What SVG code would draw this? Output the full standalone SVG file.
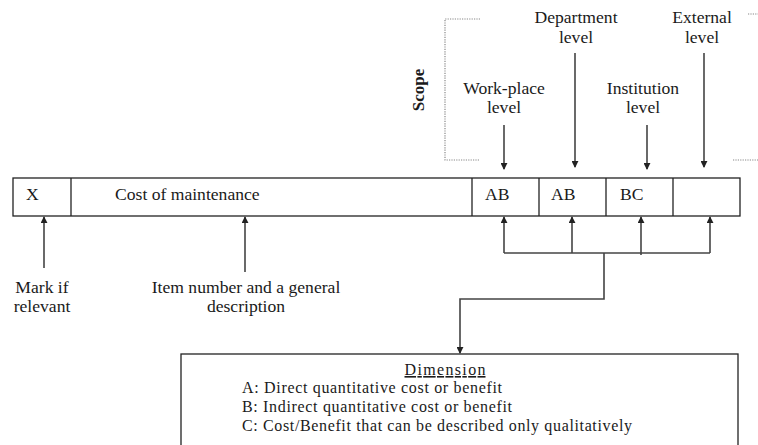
<svg xmlns="http://www.w3.org/2000/svg" width="758" height="445" viewBox="0 0 758 445">
<style>
text{font-family:"Liberation Serif","Times New Roman",serif;font-size:17.6px;fill:#1a1a1a}
.c{text-anchor:middle}
.d{font-size:16px}
.ln{stroke:#444;stroke-width:1.6;fill:none}
.box{stroke:#222;stroke-width:1.3;fill:#fff}
.dot{stroke:#888;stroke-width:1.2;stroke-dasharray:1.2 1.2;fill:none}
</style>
<defs>
<marker id="ah" viewBox="0 0 8 8" refX="7" refY="4" markerWidth="7" markerHeight="7" markerUnits="userSpaceOnUse" orient="auto">
<path d="M0,0 L8,4 L0,8 z" fill="#222"/>
</marker>
</defs>
<rect width="758" height="445" fill="#fff"/>
<g id="scope">
<polyline class="dot" points="480,19 445,19 445,160 480,160"/>
<line class="dot" x1="748" y1="14" x2="758" y2="14"/>
<line class="dot" x1="733" y1="160" x2="758" y2="160"/>
<text transform="translate(424,90) rotate(-90)" class="c" style="font-weight:bold;font-size:17px">Scope</text>
</g>
<g id="labels-top">
<text class="c" x="504" y="94">Work-place</text>
<text class="c" x="504" y="113">level</text>
<text class="c" x="576" y="23">Department</text>
<text class="c" x="576" y="43">level</text>
<text class="c" x="643" y="94">Institution</text>
<text class="c" x="643" y="113">level</text>
<text class="c" x="702" y="23">External</text>
<text class="c" x="702" y="43">level</text>
</g>
<g id="table">
<rect class="box" x="13" y="178" width="727" height="38"/>
<line class="box" x1="71" y1="178" x2="71" y2="216"/>
<line class="box" x1="472" y1="178" x2="472" y2="216"/>
<line class="box" x1="539" y1="178" x2="539" y2="216"/>
<line class="box" x1="606" y1="178" x2="606" y2="216"/>
<line class="box" x1="673" y1="178" x2="673" y2="216"/>
<text x="26" y="200">X</text>
<text x="115" y="200">Cost of maintenance</text>
<text x="485" y="200">AB</text>
<text x="551" y="200">AB</text>
<text x="620" y="200">BC</text>
</g>
<g id="labels-bottom">
<text class="c" x="42" y="293">Mark if</text>
<text class="c" x="42" y="312">relevant</text>
<text class="c" x="246" y="293">Item number and a general</text>
<text class="c" x="246" y="312">description</text>
</g>
<g id="dimension">
<rect class="box" x="181" y="354" width="557" height="100"/>
<text class="c d" x="445" y="375" textLength="81" style="text-decoration:underline">Dimension</text>
<text class="d" x="242" y="393" textLength="260">A: Direct quantitative cost or benefit</text>
<text class="d" x="242" y="412" textLength="270">B: Indirect quantitative cost or benefit</text>
<text class="d" x="242" y="431" textLength="390">C: Cost/Benefit that can be described only qualitatively</text>
</g>
<g id="connectors">
<line class="ln" x1="504" y1="125" x2="504" y2="169" marker-end="url(#ah)"/>
<line class="ln" x1="575" y1="53" x2="575" y2="167" marker-end="url(#ah)"/>
<line class="ln" x1="647" y1="125" x2="647" y2="169" marker-end="url(#ah)"/>
<line class="ln" x1="704" y1="53" x2="704" y2="167" marker-end="url(#ah)"/>
<line class="ln" x1="44" y1="268" x2="44" y2="217" marker-end="url(#ah)"/>
<line class="ln" x1="245" y1="272" x2="245" y2="217" marker-end="url(#ah)"/>
<polyline class="ln" points="504,253 710,253"/>
<line class="ln" x1="504" y1="253" x2="504" y2="217" marker-end="url(#ah)"/>
<line class="ln" x1="572" y1="253" x2="572" y2="217" marker-end="url(#ah)"/>
<line class="ln" x1="641" y1="255" x2="641" y2="217" marker-end="url(#ah)"/>
<line class="ln" x1="710" y1="253" x2="710" y2="217" marker-end="url(#ah)"/>
<polyline class="ln" points="604,253 604,299 460,299 460,353" marker-end="url(#ah)"/>
</g>
</svg>
